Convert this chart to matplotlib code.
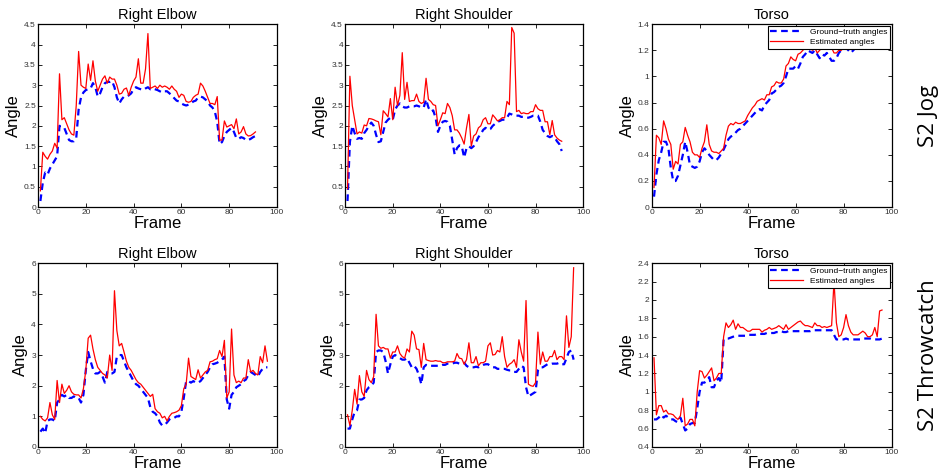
import matplotlib.pyplot as plt
import numpy as np

# S2 Jog (frames 1..91)
jog_elbow_gt = [0.15, 0.6, 0.85, 0.8, 0.95, 1.05, 1.15, 1.25, 2.0, 1.98, 1.95, 1.8, 1.65, 1.62, 1.62, 1.7, 2.4, 2.7, 2.82, 2.88,
                2.9, 2.92, 3.05, 2.95, 2.72, 2.8, 2.95, 3.05, 3.08, 3.08, 3.1, 2.95, 2.7, 2.55, 2.65, 2.72, 2.72, 2.75, 2.8, 2.9,
                2.95, 2.92, 2.9, 2.88, 2.92, 2.95, 2.9, 2.92, 2.9, 2.88, 2.85, 2.82, 2.85, 2.85, 2.8, 2.75, 2.68, 2.62, 2.6, 2.55,
                2.52, 2.5, 2.52, 2.55, 2.6, 2.62, 2.7, 2.72, 2.7, 2.65, 2.6, 2.5, 2.45, 2.35, 2.1, 1.55, 1.6, 1.75, 1.85, 1.9,
                1.95, 1.85, 1.7, 1.68, 1.72, 1.7, 1.65, 1.65, 1.68, 1.72, 1.75]
jog_elbow_est = [0.4, 1.35, 1.25, 1.18, 1.3, 1.38, 1.57, 1.45, 3.28, 2.15, 2.2, 2.05, 1.9, 1.8, 1.77, 2.5, 3.83, 3.0, 2.95, 2.92,
                 3.52, 3.12, 3.6, 3.1, 2.85, 3.0, 3.15, 3.23, 3.05, 3.2, 3.15, 3.15, 3.0, 2.78, 2.8, 2.9, 2.93, 2.75, 2.95, 3.1,
                 3.2, 3.65, 3.05, 3.05, 3.4, 4.27, 2.92, 2.95, 2.98, 2.92, 3.0, 2.95, 2.98, 2.95, 2.9, 2.98, 2.9, 2.85, 2.7, 2.78,
                 2.75, 2.6, 2.58, 2.6, 2.7, 2.75, 2.78, 3.05, 2.98, 2.85, 2.7, 2.55, 2.55, 2.52, 2.72, 1.65, 1.65, 2.12, 1.97, 2.0,
                 2.03, 1.93, 2.17, 1.8, 1.85, 1.98, 1.8, 1.75, 1.76, 1.8, 1.85]
jog_shoulder_gt = [0.15, 1.6, 2.0, 1.82, 1.68, 1.7, 1.68, 1.82, 1.9, 2.0, 2.08, 2.0, 1.78, 1.6, 1.62, 1.85, 2.08, 2.15, 2.2, 2.15,
                   2.4, 2.5, 2.55, 2.48, 2.45, 2.45, 2.48, 2.48, 2.48, 2.5, 2.48, 2.45, 2.45, 2.65, 2.45, 2.35, 2.38, 2.2, 1.85, 2.0,
                   2.1, 2.12, 2.1, 2.0, 1.65, 1.3, 1.45, 1.52, 1.5, 1.22, 1.45, 1.5, 1.45, 1.5, 1.6, 1.72, 1.8, 1.9, 1.95, 1.9,
                   1.92, 2.0, 2.05, 2.1, 2.12, 2.15, 2.15, 2.2, 2.3, 2.28, 2.25, 2.25, 2.25, 2.22, 2.22, 2.2, 2.2, 2.22, 2.25, 2.25,
                   2.25, 2.1, 1.9, 1.82, 1.75, 1.72, 1.75, 1.72, 1.62, 1.55, 1.38]
jog_shoulder_est = [0.45, 3.22, 2.5, 2.15, 1.8, 1.85, 1.82, 2.02, 2.0, 2.18, 2.17, 2.15, 2.12, 2.1, 1.78, 2.37, 2.3, 2.22, 2.67, 2.15,
                    2.95, 2.5, 2.75, 3.8, 2.65, 3.07, 2.6, 2.62, 2.62, 2.78, 2.6, 2.55, 2.58, 3.17, 2.65, 2.6, 2.52, 2.5, 2.0, 2.15,
                    2.32, 2.3, 2.55, 2.45, 2.25, 1.9, 1.9, 1.82, 1.7, 1.55, 1.95, 2.28, 1.5, 1.75, 1.8, 1.95, 2.0, 2.15, 2.2, 2.05,
                    2.05, 2.27, 2.2, 2.12, 2.15, 2.2, 2.2, 2.6, 2.52, 4.42, 4.28, 2.35, 2.38, 2.3, 2.32, 2.3, 2.3, 2.35, 2.35, 2.52,
                    2.42, 2.38, 2.38, 2.1, 2.1, 1.78, 2.13, 1.78, 1.7, 1.65, 1.62]
jog_torso_gt = [0.08, 0.25, 0.36, 0.42, 0.5, 0.5, 0.45, 0.3, 0.2, 0.2, 0.24, 0.32, 0.4, 0.5, 0.42, 0.32, 0.31, 0.3, 0.31, 0.35,
                0.42, 0.45, 0.43, 0.4, 0.38, 0.36, 0.36, 0.38, 0.41, 0.44, 0.48, 0.52, 0.54, 0.55, 0.57, 0.59, 0.6, 0.62, 0.64, 0.66,
                0.68, 0.7, 0.72, 0.74, 0.75, 0.74, 0.78, 0.8, 0.82, 0.87, 0.88, 0.9, 0.92, 0.93, 0.95, 1.0, 1.06, 1.06, 1.06, 1.08,
                1.06, 1.1, 1.15, 1.17, 1.2, 1.19, 1.18, 1.2, 1.17, 1.14, 1.17, 1.16, 1.18, 1.15, 1.12, 1.12, 1.14, 1.18, 1.2, 1.22,
                1.22, 1.2, 1.18, 1.2, 1.22, 1.22, 1.22, 1.24, 1.26, 1.27, 1.28]
jog_torso_est = [0.15, 0.55, 0.53, 0.48, 0.66, 0.6, 0.52, 0.48, 0.29, 0.35, 0.33, 0.48, 0.5, 0.61, 0.55, 0.5, 0.42, 0.4, 0.4, 0.38,
                 0.45, 0.5, 0.63, 0.48, 0.43, 0.42, 0.42, 0.41, 0.43, 0.45, 0.55, 0.62, 0.64, 0.63, 0.65, 0.64, 0.64, 0.65, 0.66, 0.7,
                 0.73, 0.76, 0.78, 0.81, 0.82, 0.83, 0.82, 0.86, 0.86, 0.92, 0.93, 0.96, 0.95, 0.95, 0.98, 1.08, 1.1, 1.15, 1.13, 1.12,
                 1.17, 1.18, 1.2, 1.22, 1.25, 1.22, 1.2, 1.22, 1.18, 1.2, 1.22, 1.23, 1.24, 1.25, 1.22, 1.18, 1.18, 1.2, 1.2, 1.22,
                 1.24, 1.23, 1.25, 1.25, 1.27, 1.28, 1.3, 1.3, 1.32, 1.33, 1.34]

# S2 Throwcatch (frames 1..96)
tc_elbow_gt = [0.5, 0.6, 0.45, 0.85, 0.9, 0.9, 0.85, 1.45, 1.55, 1.7, 1.65, 1.7, 1.6, 1.6, 1.65, 1.6, 1.6, 1.45, 1.7, 2.5,
               3.1, 2.8, 2.55, 2.4, 2.4, 2.45, 2.3, 2.1, 2.45, 2.4, 2.4, 2.45, 2.95, 3.0, 3.0, 2.8, 2.6, 2.45, 2.3, 2.15,
               2.05, 2.0, 1.9, 1.8, 1.7, 1.6, 1.3, 1.15, 1.1, 1.0, 0.8, 0.7, 0.72, 0.8, 0.9, 0.95, 0.95, 1.0, 1.0, 1.15,
               1.6, 2.15, 2.15, 2.1, 2.15, 2.1, 2.1, 2.15, 2.25, 2.35, 2.45, 2.6, 2.7, 2.72, 2.75, 2.8, 2.85, 2.95, 1.55, 1.25,
               1.7, 1.8, 1.95, 2.0, 2.05, 2.15, 2.2, 2.35, 2.45, 2.4, 2.35, 2.3, 2.45, 2.55, 2.6, 2.6]
tc_elbow_est = [1.0, 0.9, 0.85, 0.95, 1.45, 1.05, 0.9, 2.17, 1.45, 2.05, 1.75, 1.85, 2.0, 1.8, 1.72, 1.7, 1.7, 1.6, 1.9, 2.5,
                3.55, 3.65, 3.2, 2.85, 2.6, 2.5, 2.4, 2.35, 2.25, 3.0, 2.5, 5.1, 3.8, 3.3, 3.38, 3.1, 2.8, 2.6, 2.5, 2.35,
                2.2, 2.1, 2.05, 1.95, 1.85, 1.75, 1.65, 1.72, 1.25, 1.15, 1.1, 0.95, 1.0, 0.85, 1.0, 1.1, 1.12, 1.15, 1.2, 1.35,
                1.9, 2.05, 2.9, 2.3, 2.25, 2.2, 2.52, 2.25, 2.35, 2.45, 2.5, 2.78, 2.8, 2.85, 2.88, 3.15, 2.95, 3.48, 1.6, 1.8,
                3.85, 2.35, 2.1, 2.15, 2.1, 2.25, 2.25, 2.85, 2.45, 2.5, 2.4, 2.35, 2.95, 2.75, 3.3, 2.8]
tc_shoulder_gt = [0.6, 0.6, 0.9, 1.15, 1.2, 1.55, 1.55, 1.6, 1.85, 1.95, 2.0, 2.1, 3.1, 3.15, 3.15, 3.1, 2.8, 2.4, 2.7, 2.95,
                  3.0, 2.95, 2.9, 2.85, 2.85, 2.9, 2.75, 2.6, 2.65, 2.55, 2.35, 2.05, 2.6, 2.68, 2.65, 2.65, 2.65, 2.65, 2.65, 2.65,
                  2.68, 2.68, 2.72, 2.72, 2.72, 2.75, 2.75, 2.72, 2.72, 2.75, 2.65, 2.6, 2.6, 2.6, 2.62, 2.6, 2.65, 2.68, 2.7, 2.7,
                  2.65, 2.6, 2.6, 2.55, 2.55, 2.55, 2.55, 2.52, 2.5, 2.5, 2.45, 2.45, 2.55, 2.65, 2.6, 1.95, 1.65, 1.7, 1.75, 1.8,
                  2.5, 2.6, 2.6, 2.65, 2.7, 2.7, 2.72, 2.72, 2.72, 2.75, 2.7, 2.7, 2.9, 3.1, 3.15, 2.85]
tc_shoulder_est = [1.05, 0.7, 1.2, 1.88, 1.4, 2.33, 1.8, 1.65, 2.5, 2.2, 2.1, 2.3, 4.33, 3.3, 3.22, 3.25, 3.2, 3.2, 2.9, 3.1,
                   3.1, 3.3, 3.05, 2.95, 2.9, 3.2, 3.1, 3.78, 3.65, 3.2, 3.18, 2.6, 3.38, 2.85, 2.82, 2.8, 2.8, 2.82, 2.8, 2.8,
                   2.75, 2.75, 2.78, 2.78, 2.78, 2.8, 3.05, 2.9, 2.88, 2.7, 2.85, 3.4, 2.75, 2.75, 2.95, 2.65, 2.75, 2.75, 2.8, 3.3,
                   3.4, 3.0, 3.02, 3.15, 3.1, 3.6, 2.95, 2.6, 2.7, 2.75, 2.85, 2.6, 3.5, 3.1, 2.8, 4.78, 2.05, 2.0, 1.98, 2.1,
                   3.75, 2.7, 3.1, 2.8, 2.8, 2.95, 2.95, 3.15, 2.85, 2.95, 2.95, 2.85, 4.28, 3.25, 3.6, 5.85]
tc_torso_gt = [0.7, 0.7, 0.72, 0.75, 0.72, 0.74, 0.72, 0.7, 0.7, 0.68, 0.67, 0.72, 0.65, 0.58, 0.6, 0.65, 0.66, 0.66, 0.82, 1.0,
               1.1, 1.1, 1.12, 1.16, 1.05, 1.05, 1.12, 1.15, 1.1, 1.57, 1.58, 1.58, 1.59, 1.6, 1.61, 1.61, 1.61, 1.61, 1.61, 1.62,
               1.62, 1.62, 1.62, 1.63, 1.63, 1.63, 1.63, 1.64, 1.64, 1.64, 1.64, 1.65, 1.65, 1.66, 1.65, 1.65, 1.66, 1.66, 1.66, 1.66,
               1.66, 1.66, 1.66, 1.66, 1.66, 1.66, 1.67, 1.67, 1.67, 1.67, 1.67, 1.67, 1.67, 1.67, 1.67, 1.62, 1.57, 1.57, 1.57, 1.57,
               1.58, 1.57, 1.57, 1.57, 1.57, 1.57, 1.57, 1.58, 1.58, 1.58, 1.58, 1.57, 1.57, 1.57, 1.57, 1.58]
tc_torso_est = [1.37, 0.75, 0.85, 0.85, 0.78, 0.8, 0.76, 0.76, 0.75, 0.72, 0.7, 0.74, 0.93, 0.63, 0.65, 0.7, 0.7, 0.63, 1.0, 1.23,
                1.22, 1.15, 1.18, 1.22, 1.26, 1.12, 1.15, 1.2, 1.2, 1.6, 1.75, 1.7, 1.73, 1.78, 1.68, 1.74, 1.7, 1.7, 1.68, 1.66,
                1.66, 1.68, 1.68, 1.68, 1.68, 1.65, 1.67, 1.68, 1.7, 1.68, 1.69, 1.7, 1.72, 1.7, 1.68, 1.73, 1.68, 1.7, 1.72, 1.74,
                1.76, 1.77, 1.74, 1.72, 1.72, 1.71, 1.7, 1.75, 1.72, 1.72, 1.7, 1.71, 1.7, 1.71, 1.72, 2.2, 1.75, 1.6, 1.62, 1.7,
                1.84, 1.72, 1.65, 1.62, 1.62, 1.62, 1.64, 1.66, 1.64, 1.6, 1.6, 1.62, 1.7, 1.6, 1.88, 1.89]

titles = ["Right Elbow", "Right Shoulder", "Torso"]
row_labels = ["S2 Jog", "S2 Throwcatch"]
ylims = [[(0, 4.5), (0, 4.5), (0, 1.4)], [(0, 6), (0, 6), (0.4, 2.4)]]
yticks = [[np.arange(0, 4.51, 0.5), np.arange(0, 4.51, 0.5), np.arange(0, 1.41, 0.2)],
          [np.arange(0, 6.1, 1), np.arange(0, 6.1, 1), np.arange(0.4, 2.41, 0.2)]]
data = [[(jog_elbow_gt, jog_elbow_est), (jog_shoulder_gt, jog_shoulder_est), (jog_torso_gt, jog_torso_est)],
        [(tc_elbow_gt, tc_elbow_est), (tc_shoulder_gt, tc_shoulder_est), (tc_torso_gt, tc_torso_est)]]

plt.rcParams['font.family'] = ['Liberation Sans', 'DejaVu Sans']

fig = plt.figure(figsize = (9.43, 4.75), dpi = 100)
lefts = [0.0403, 0.366, 0.691]
widths = [0.2534, 0.2524, 0.2545]
bottoms = [0.564, 0.059]
heights = [0.385, 0.387]

for r in range(2):
    for c in range(3):
        ax = fig.add_axes([lefts[c], bottoms[r], widths[c], heights[r]])
        gt, est = data[r][c]
        frames = np.arange(1, len(gt) + 1)
        ax.plot(frames, gt, color = "blue", linestyle = (0, (3, 2)), linewidth = 1.6, label = "Ground\u2212truth angles")
        ax.plot(frames, est, color = "red", linewidth = 0.9, label = "Estimated angles")
        ax.set_xlim(0, 100)
        ax.set_ylim(*ylims[r][c])
        ax.set_xticks(np.arange(0, 101, 20))
        ax.set_yticks(yticks[r][c])
        ax.set_yticklabels(["%g" % v for v in yticks[r][c]])
        ax.tick_params(direction = "in", top = True, right = True, length = 3, width = 0.6,
                       labelsize = 6, labelcolor = "#333333", pad = 1.5)
        for s in ax.spines.values():
            s.set_linewidth(0.9)
        ax.set_title(titles[c], fontsize = 10.5, pad = 4)
        ax.set_xlabel("Frame", fontsize = 12, labelpad = 0)
        ax.set_ylabel("Angle", fontsize = 12, labelpad = 2)
        if c == 2:
            leg = ax.legend(loc = "upper right", fontsize = 6, fancybox = False, framealpha = 1,
                            edgecolor = "black", borderpad = 0.3, handlelength = 4, labelspacing = 0.25,
                            borderaxespad = 0.2)
            leg.get_frame().set_linewidth(0.8)
    fig.text(0.985, bottoms[r] + heights[r] / 2, row_labels[r], rotation = 90, fontsize = 16,
             va = "center", ha = "center", family = ["Open Sans", "DejaVu Sans"])

plt.savefig("out.png", format = "png")
plt.close(fig)
